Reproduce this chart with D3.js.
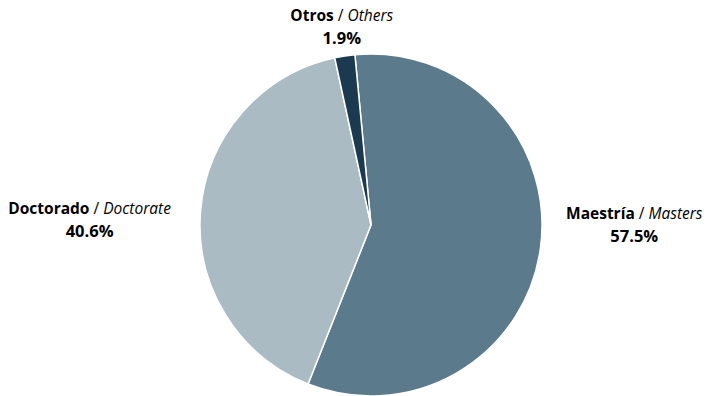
<!DOCTYPE html>
<html>
<head>
<meta charset="utf-8">
<script src="https://cdn.jsdelivr.net/npm/d3@7"></script>
<style>
  body { margin: 0; background: #fff; }
  text { font-family: "Open Sans", "Noto Sans", sans-serif; fill: #000; }
</style>
</head>
<body>
<div id="chart"></div>
<script>
// Data
var categories = ["Maestría", "Doctorado", "Otros"];
var english = ["Masters", "Doctorate", "Others"];
var shares = [57.5, 40.6, 1.9];
var colors = ["#5b7a8c", "#aabbc4", "#1b3a4f"];

var width = 707, height = 396;
var cx = 371, cy = 225, radius = 171;

var svg = d3.select("#chart").append("svg")
    .attr("width", width)
    .attr("height", height);

var g = svg.append("g").attr("transform", "translate(" + cx + "," + cy + ")");

// first slice starts a little left of 12 o'clock
var start = -5.4 * Math.PI / 180;
var pie = d3.pie().sort(null).startAngle(start).endAngle(start + 2 * Math.PI);
var arcs = pie(shares);

var arc = d3.arc().innerRadius(0).outerRadius(radius);

g.selectAll(".slice")
    .data(arcs)
    .enter().append("path")
    .attr("class", "slice")
    .attr("d", arc)
    .attr("fill", function (d, i) { return colors[i]; })
    .attr("stroke", "#fff")
    .attr("stroke-width", 1.5);

// label placement relative to the slice's outer midpoint
var labelOffset = [[94, -30], [-111, 3], [-3, -35]];

var outer = d3.arc().innerRadius(radius).outerRadius(radius);

var labels = g.selectAll(".lbl")
    .data(arcs)
    .enter().append("g")
    .attr("class", "lbl")
    .attr("transform", function (d, i) {
        var p = outer.centroid(d);
        return "translate(" + (p[0] + labelOffset[i][0]) + "," + (p[1] + labelOffset[i][1]) + ")";
    });

var line1 = labels.append("text")
    .attr("text-anchor", "middle")
    .attr("font-size", 15.5);
line1.append("tspan").attr("font-weight", "bold").text(function (d, i) { return categories[i]; });
line1.append("tspan").text(" / ");
line1.append("tspan").attr("font-style", "italic").text(function (d, i) { return english[i]; });

labels.append("text")
    .attr("text-anchor", "middle")
    .attr("y", 23)
    .attr("font-size", 16.5)
    .attr("font-weight", "bold")
    .text(function (d, i) { return d3.format(".1f")(shares[i]) + "%"; });
</script>
</body>
</html>
